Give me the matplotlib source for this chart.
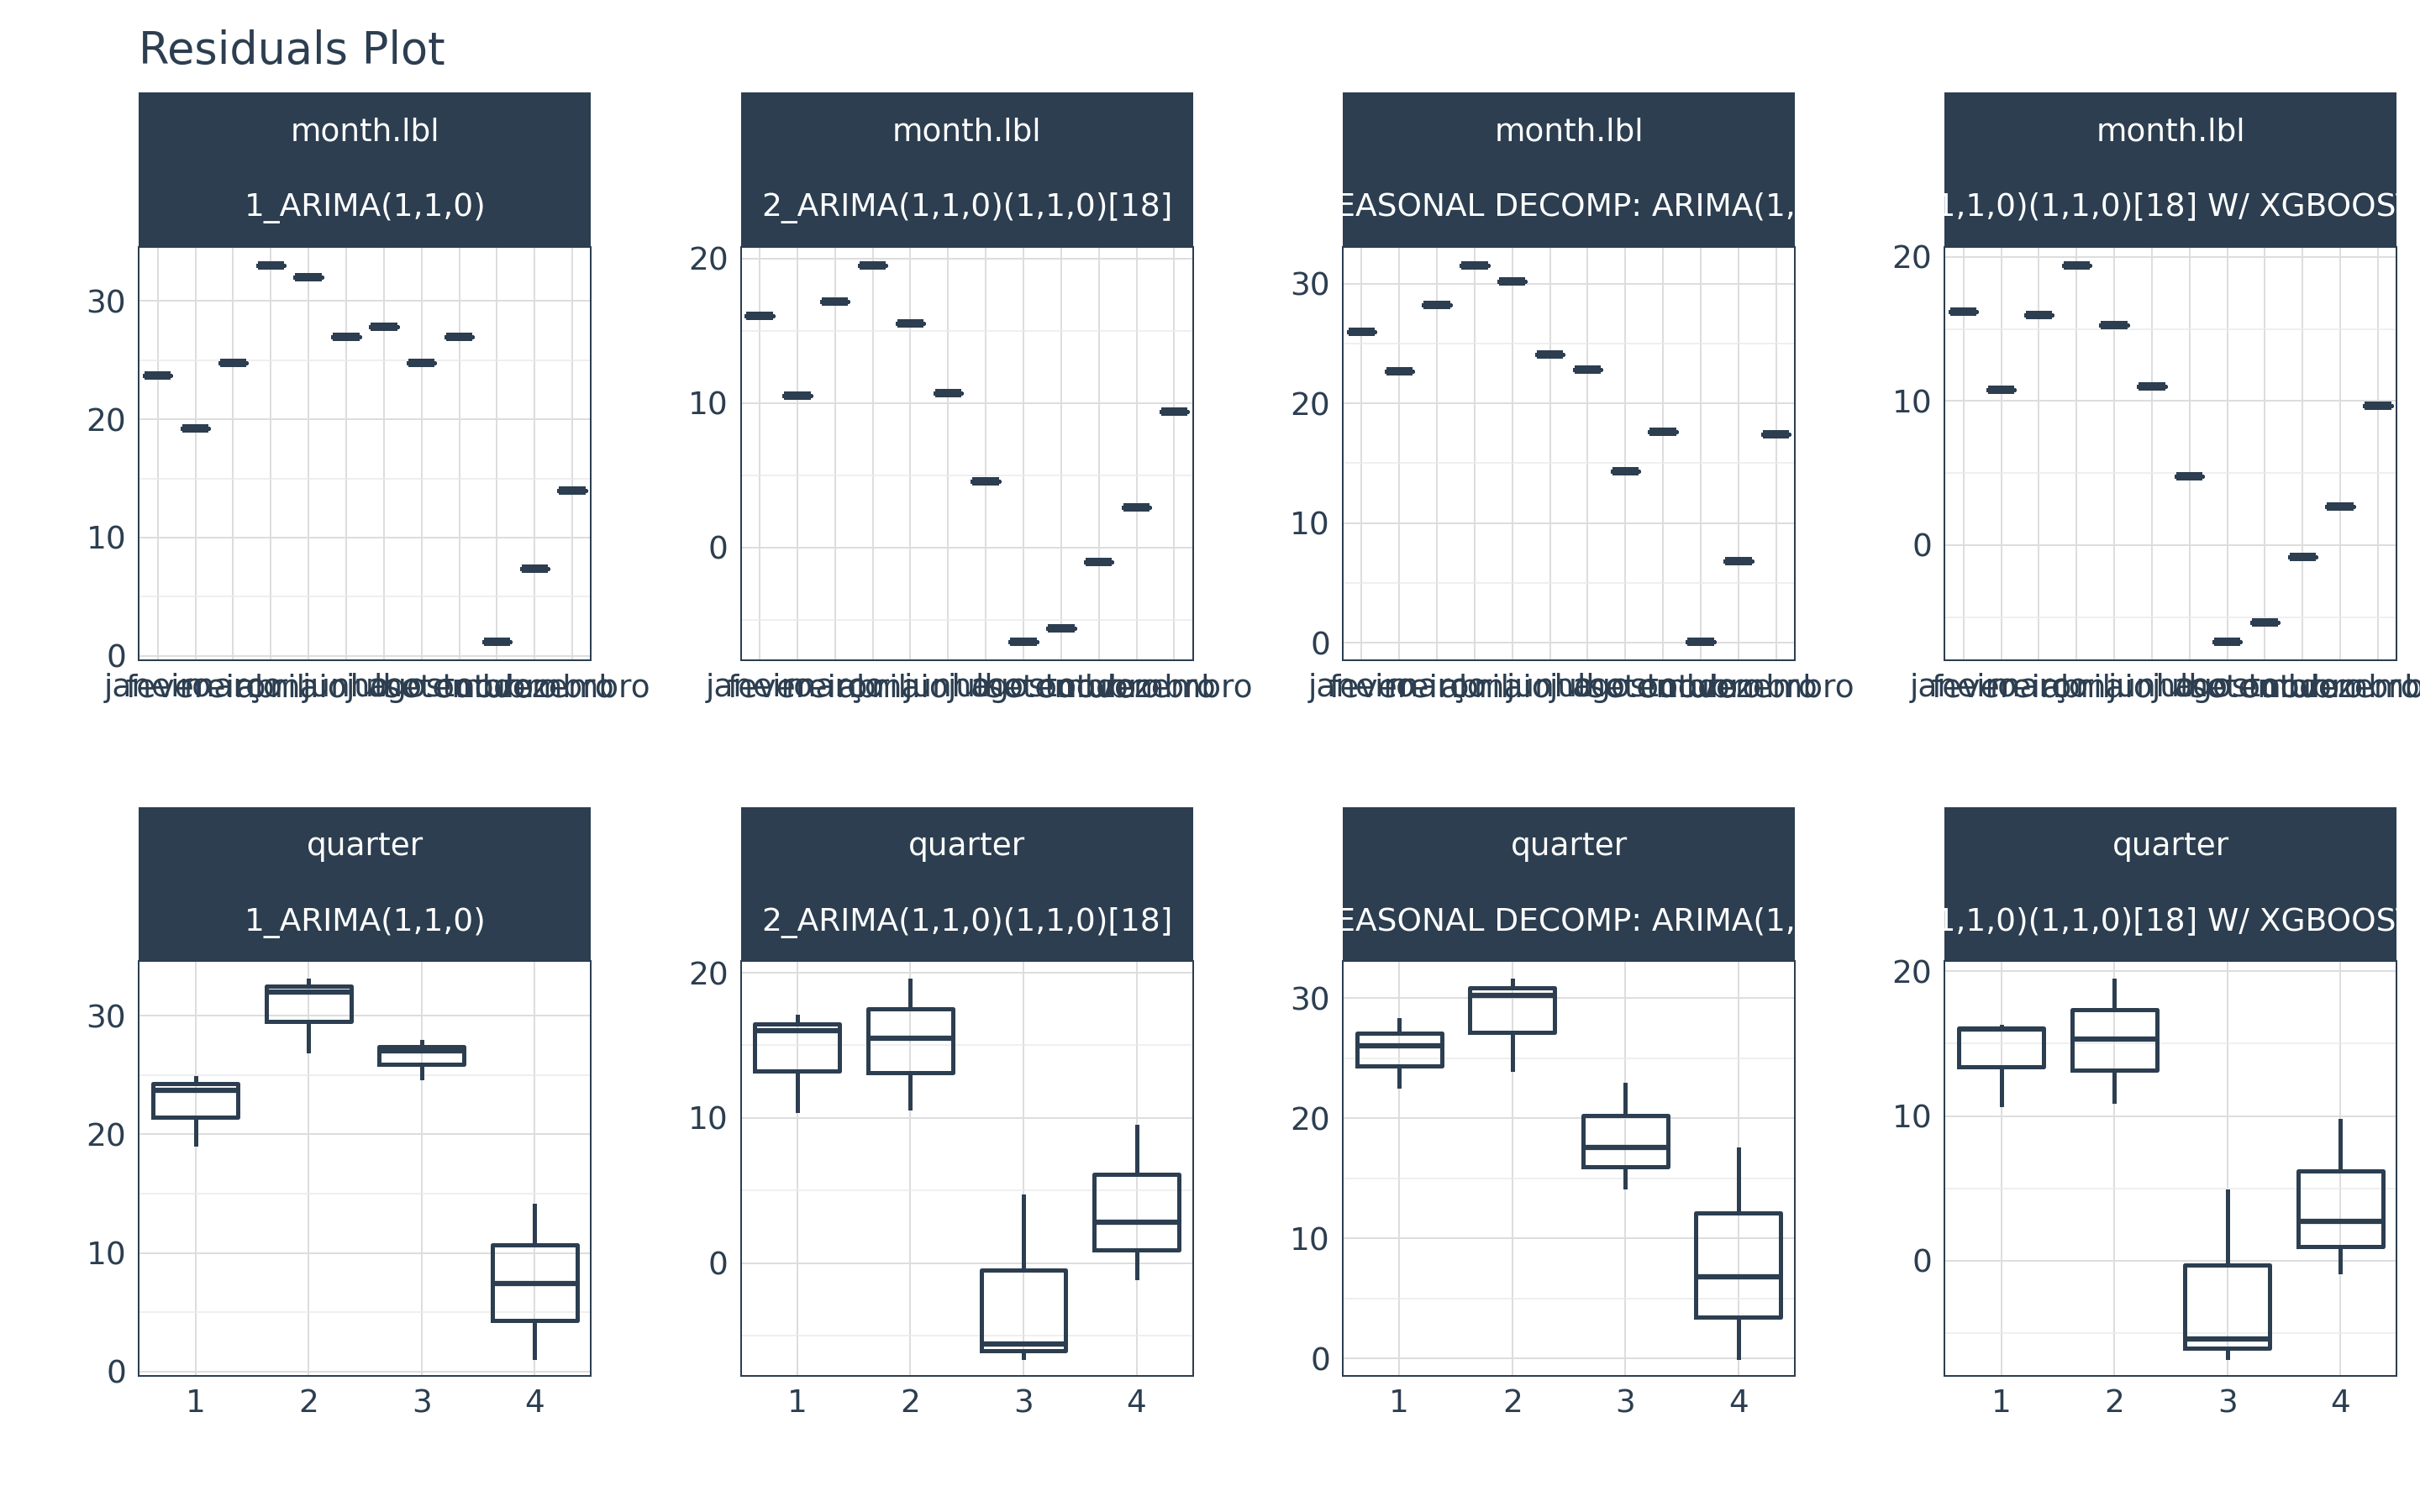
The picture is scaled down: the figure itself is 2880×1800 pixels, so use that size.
import numpy as np
import matplotlib
matplotlib.use("Agg")
import matplotlib.pyplot as plt

DARK = "#2C3E50"

months = ["janeiro", "fevereiro", "março", "abril", "maio", "junho", "julho",
          "agosto", "setembro", "outubro", "novembro", "dezembro"]
models = ["1_ARIMA(1,1,0)",
          "2_ARIMA(1,1,0)(1,1,0)[18]",
          "3_SEASONAL DECOMP: ARIMA(1,1,0)",
          "4_ARIMA(1,1,0)(1,1,0)[18] W/ XGBOOST ERRORS"]

res_1 = [23.7, 19.2, 24.8, 33.0, 32.0, 27.0, 27.8, 24.8, 27.0, 1.2, 7.4, 14.0]
res_2 = [16.0, 10.5, 17.0, 19.5, 15.5, 10.7, 4.6, -6.5, -5.6, -1.0, 2.8, 9.4]
res_3 = [26.0, 22.7, 28.2, 31.5, 30.2, 24.1, 22.8, 14.3, 17.6, 0.1, 6.8, 17.4]
res_4 = [16.2, 10.8, 16.0, 19.4, 15.3, 11.0, 4.8, -6.7, -5.4, -0.8, 2.7, 9.7]
residuals = [res_1, res_2, res_3, res_4]

W, H = 1568, 980
fig = plt.figure(figsize=(16, 10), dpi=180)
fig.text(90 / W, 1 - 33 / H, "Residuals Plot", fontsize=21, color=DARK, va="center")

col_x = [90, 480, 870, 1260]
panel_w = 293
rows = [(60, 160, 428), (523, 623, 892)]  # strip top, axes top, axes bottom

props = dict(color=DARK, linewidth=2)

for r, (s_top, a_top, a_bot) in enumerate(rows):
    for c, x0 in enumerate(col_x):
        vals = residuals[c]
        sax = fig.add_axes([x0 / W, 1 - a_top / H, panel_w / W, (a_top - s_top) / H])
        sax.set_facecolor(DARK)
        sax.set_xticks([]); sax.set_yticks([])
        for sp in sax.spines.values():
            sp.set_visible(False)
        sax.set_xlim(0, 1); sax.set_ylim(0, 1)
        sax.text(0.5, 0.74, "month.lbl" if r == 0 else "quarter", color="white",
                 ha="center", va="center", fontsize=15, clip_on=True)
        sax.text(0.5, 0.25, models[c], color="white", ha="center", va="center",
                 fontsize=15, clip_on=True)

        ax = fig.add_axes([x0 / W, 1 - a_bot / H, panel_w / W, (a_bot - a_top) / H])
        if r == 0:
            data = [[v] for v in vals]
            labels = months
            width = 0.7
            med_lw = 4
        else:
            data = [vals[i * 3:(i + 1) * 3] for i in range(4)]
            labels = ["1", "2", "3", "4"]
            width = 0.75
            med_lw = 2.5
        ax.boxplot(data, widths=width, tick_labels=labels, whis=1.5,
                   boxprops=props, medianprops=dict(color=DARK, linewidth=med_lw),
                   whiskerprops=props, capprops=dict(linewidth=0), showfliers=False)
        ax.set_yticks([0, 10, 20, 30] if min(vals) >= 0 else [0, 10, 20])
        ax.xaxis.set_minor_locator(matplotlib.ticker.NullLocator())
        ax.yaxis.set_minor_locator(matplotlib.ticker.AutoMinorLocator(2))
        ax.grid(True, which="major", color="#DDDDDD", linewidth=0.8)
        ax.grid(True, which="minor", axis="y", color="#EBEBEB", linewidth=0.6)
        ax.set_axisbelow(True)
        for sp in ax.spines.values():
            sp.set_color(DARK)
        ax.tick_params(colors=DARK, labelsize=15, which="both", length=0, pad=6)

fig.savefig("out.png", dpi=180, facecolor="white")
